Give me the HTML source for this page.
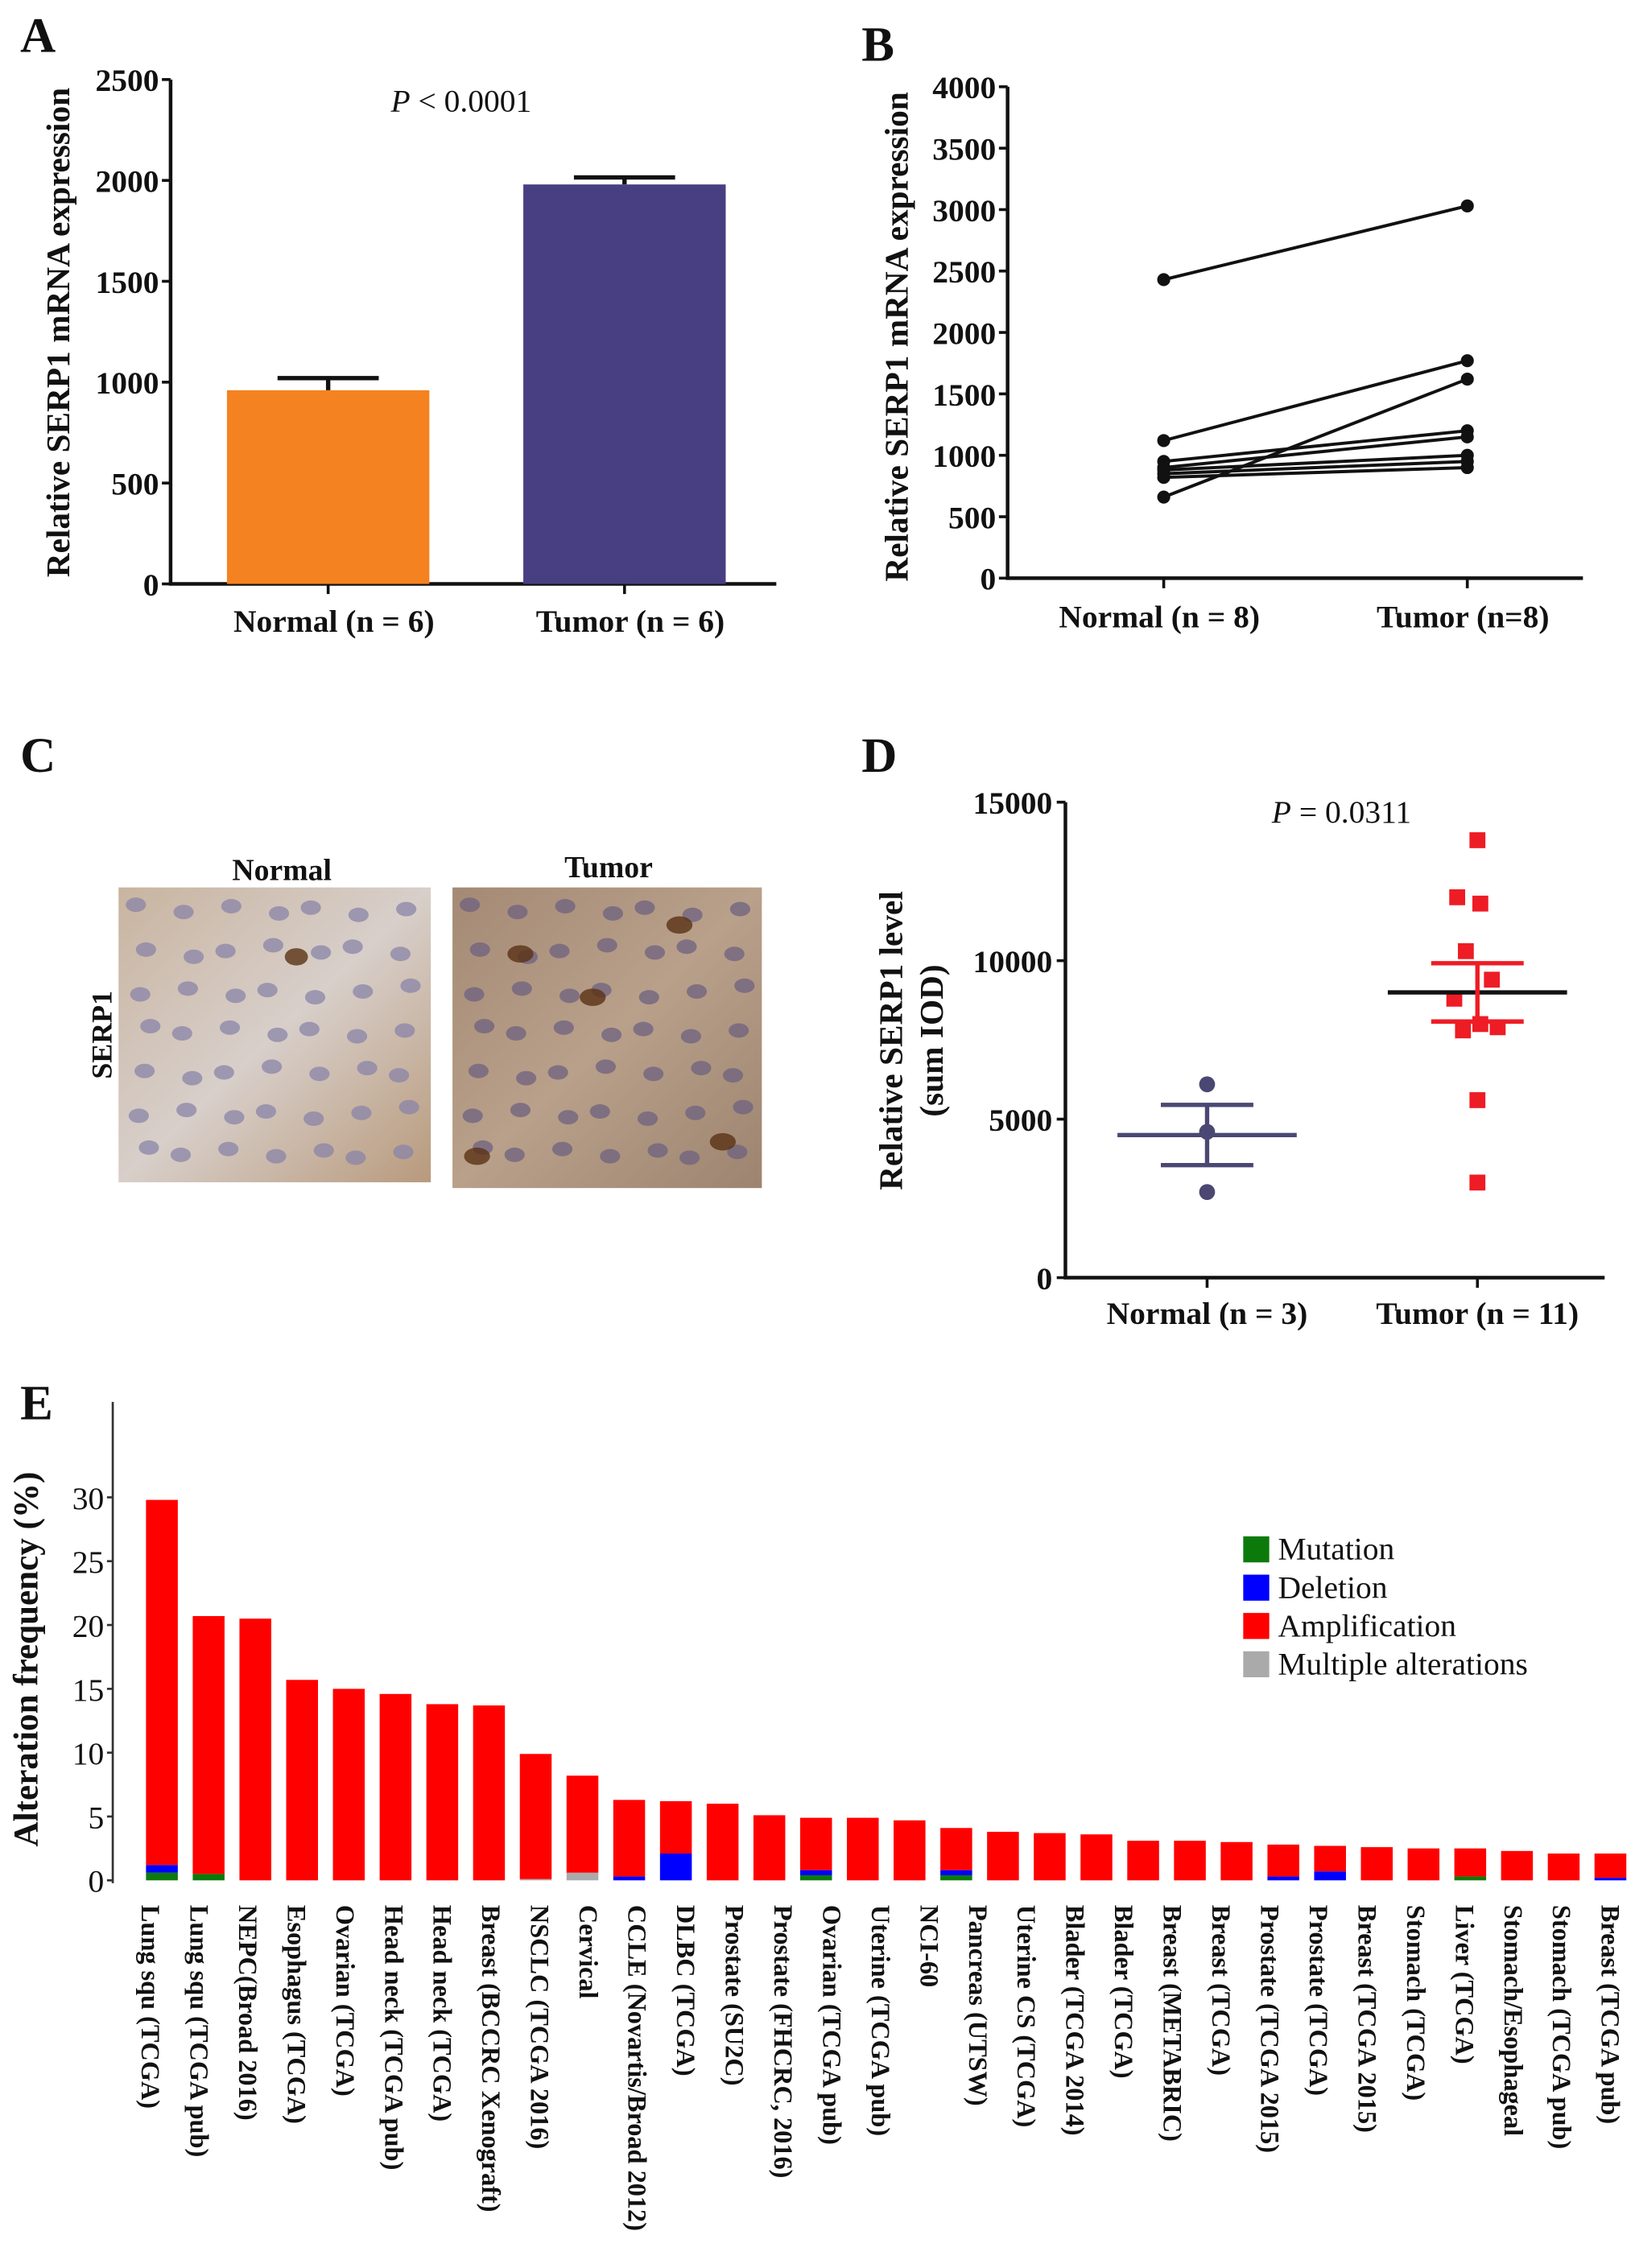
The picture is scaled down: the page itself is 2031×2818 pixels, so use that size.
<!DOCTYPE html>
<html><head><meta charset="utf-8"><style>
html,body{margin:0;padding:0;background:#fff}
svg{display:block}
text{font-family:"Liberation Serif",serif;fill:#111}
</style></head><body>
<svg id="fig" width="2031" height="2818" viewBox="0 0 1131 1569.2" xmlns="http://www.w3.org/2000/svg">
<g id="pa"></g>
<g id="pb"></g>
<g id="pc"></g>
<g id="pd"></g>
<g id="pe"></g>
</svg>
<script>
// Panel A data
const aCats = ["Normal (n = 6)", "Tumor (n = 6)"];
const aVals = [960, 1980];
const aErr = [60, 35];
const aTicks = [0, 500, 1000, 1500, 2000, 2500];
// Panel B data
const bCats = ["Normal (n = 8)", "Tumor (n=8)"];
const bNormal = [2430, 1120, 660, 950, 900, 880, 850, 820];
const bTumor = [3030, 1770, 1620, 1200, 1150, 1000, 950, 900];
const bTicks = [0, 500, 1000, 1500, 2000, 2500, 3000, 3500, 4000];
// Panel D data
const dCats = ["Normal (n = 3)", "Tumor (n = 11)"];
const dNormal = [6100, 4600, 2700];
const dTumor = [13800, 12000, 11800, 10300, 9400, 8800, 8000, 7900, 7800, 5600, 3000];
const dTumorJitter = [0, -14, 2, -8, 10, -16, 2, 14, -10, 0, 0];
const dMean = [4500, 9000];
const dSem = [950, 920];
const dTicks = [0, 5000, 10000, 15000];
// Panel E data
const eCats = ["Lung squ (TCGA)","Lung squ (TCGA pub)","NEPC(Broad 2016)","Esophagus (TCGA)","Ovarian (TCGA)","Head neck (TCGA pub)","Head neck (TCGA)","Breast (BCCRC Xenograft)","NSCLC (TCGA 2016)","Cervical","CCLE (Novartis/Broad 2012)","DLBC (TCGA)","Prostate (SU2C)","Prostate (FHCRC, 2016)","Ovarian (TCGA pub)","Uterine (TCGA pub)","NCI-60","Pancreas (UTSW)","Uterine CS (TCGA)","Blader (TCGA 2014)","Blader (TCGA)","Breast (METABRIC)","Breast (TCGA)","Prostate (TCGA 2015)","Prostate (TCGA)","Breast (TCGA 2015)","Stomach (TCGA)","Liver (TCGA)","Stomach/Esophageal","Stomach (TCGA pub)","Breast (TCGA pub)"];
const eMutation =  [0.6,0.5,0,0,0,0,0,0,0,0,0,0,0,0,0.4,0,0,0.4,0,0,0,0,0,0,0,0,0,0,0.3,0,0,0];
const eDeletion =  [0.6,0,0,0,0,0,0,0,0,0,0.3,2.1,0,0,0.4,0,0,0.4,0,0,0,0,0,0,0.3,0.7,0,0,0,0,0,0.2];
const eMultiple =  [0,0,0,0,0,0,0,0,0.1,0.6,0,0,0,0,0,0,0,0,0,0,0,0,0,0,0,0,0,0,0,0,0,0];
const eAmp =       [28.6,20.2,20.5,15.7,15.0,14.6,13.8,13.7,9.8,7.6,6.0,4.1,6.0,5.1,4.1,4.9,4.7,3.3,3.8,3.7,3.6,3.1,3.1,3.0,2.5,2.0,2.6,2.5,2.2,2.3,2.1,1.9];
const eTicks = [0,5,10,15,20,25,30];
const legendLabels = ["Mutation","Deletion","Amplification","Multiple alterations"];
const legendColors = ["#0b7a0b","#0000ff","#ff0000","#aaaaaa"];

const NS = "http://www.w3.org/2000/svg";
function mk(parent, tag, attrs, txt){
  const el = document.createElementNS(NS, tag);
  for (const k in attrs) el.setAttribute(k, attrs[k]);
  if (txt !== undefined) el.textContent = txt;
  parent.appendChild(el);
  return el;
}
function lin(d0,d1,r0,r1){return v => r0 + (v-d0)/(d1-d0)*(r1-r0);}

// ---------- Panel A ----------
(function(){
  const g = document.getElementById('pa');
  const y = lin(0,2500,404,55);
  const xs = [227, 432];
  let t = mk(g,'text',{x:14,y:36,'font-size':34,'font-weight':'bold'},'A');
   
  let ax = mk(g,'path',{d:'M118 55 V404 H537',stroke:'#111','stroke-width':2.5,fill:'none'});
   
  aTicks.forEach(v=>{
    const tk = mk(g,'line',{x1:112,x2:118,y1:y(v),y2:y(v),stroke:'#111','stroke-width':2});
     
    const tl = mk(g,'text',{x:110,y:y(v)+8,'font-size':22,'font-weight':'bold','text-anchor':'end'},v);
     
  });
  const colors = ['#f58220','#483f82'];
  aVals.forEach((v,i)=>{
    const b = mk(g,'rect',{x:xs[i]-70,y:y(v),width:140,height:404-y(v),fill:colors[i]});
     
    const e = mk(g,'path',{d:`M${xs[i]} ${y(v)} V${y(v+aErr[i])} M${xs[i]-35} ${y(v+aErr[i])} H${xs[i]+35}`,stroke:'#111','stroke-width':3,fill:'none'});
     
    mk(g,'line',{x1:xs[i],x2:xs[i],y1:404,y2:411,stroke:'#111','stroke-width':2});
    const l = mk(g,'text',{x:xs[i]+4,y:437,'font-size':22,'font-weight':'bold','text-anchor':'middle'},aCats[i]);
     
  });
  const p = mk(g,'text',{x:319,y:77,'font-size':22,'text-anchor':'middle'});
   
  mk(p,'tspan',{'font-style':'italic'},'P'); mk(p,'tspan',{},' < 0.0001');
  const yt = mk(g,'text',{transform:'translate(48,230) rotate(-90)','font-size':23,'font-weight':'bold','text-anchor':'middle'},'Relative SERP1 mRNA expression');
   
})();

// ---------- Panel B ----------
(function(){
  const g = document.getElementById('pb');
  const y = lin(0,4000,400,60);
  const xs = [805, 1015];
  let t = mk(g,'text',{x:596,y:42,'font-size':34,'font-weight':'bold'},'B');
   
  let ax = mk(g,'path',{d:'M697 60 V400 H1095',stroke:'#111','stroke-width':2.5,fill:'none'});
   
  bTicks.forEach(v=>{
    mk(g,'line',{x1:691,x2:697,y1:y(v),y2:y(v),stroke:'#111','stroke-width':2});
    const tl = mk(g,'text',{x:689,y:y(v)+8,'font-size':22,'font-weight':'bold','text-anchor':'end'},v);
     
  });
  xs.forEach((x,i)=>{
    mk(g,'line',{x1:x,x2:x,y1:400,y2:407,stroke:'#111','stroke-width':2});
    const l = mk(g,'text',{x:x-3,y:434,'font-size':22,'font-weight':'bold','text-anchor':'middle'},bCats[i]);
     
  });
  bNormal.forEach((v,i)=>{
    const ln = mk(g,'line',{x1:xs[0],y1:y(v),x2:xs[1],y2:y(bTumor[i]),stroke:'#111','stroke-width':2.2});
     
    const c1 = mk(g,'circle',{cx:xs[0],cy:y(v),r:4.5,fill:'#111'});
     
    const c2 = mk(g,'circle',{cx:xs[1],cy:y(bTumor[i]),r:4.5,fill:'#111'});
     
  });
  const yt = mk(g,'text',{transform:'translate(628,233) rotate(-90)','font-size':23,'font-weight':'bold','text-anchor':'middle'},'Relative SERP1 mRNA expression');
   
})();

// ---------- Panel C ----------
(function(){
  const g = document.getElementById('pc');
  let t = mk(g,'text',{x:14,y:534,'font-size':34,'font-weight':'bold'},'C');
   
  const defs = mk(g,'defs',{});
  const gr1 = mk(defs,'linearGradient',{id:'gn',x1:0,y1:0,x2:1,y2:1});
  mk(gr1,'stop',{offset:0,'stop-color':'#c8b4a0'}); mk(gr1,'stop',{offset:0.5,'stop-color':'#d8cfca'}); mk(gr1,'stop',{offset:1,'stop-color':'#b89a7c'});
  const gr2 = mk(defs,'linearGradient',{id:'gt',x1:0,y1:0,x2:1,y2:1});
  mk(gr2,'stop',{offset:0,'stop-color':'#a48a74'}); mk(gr2,'stop',{offset:0.5,'stop-color':'#b9a08a'}); mk(gr2,'stop',{offset:1,'stop-color':'#9c8470'});
  const imgs = [{x:82,y:614,w:216,h:204,f:'url(#gn)',n:'normal',lbl:'Normal',lx:195,ly:609},{x:313,y:614,w:214,h:208,f:'url(#gt)',n:'tumor',lbl:'Tumor',lx:421,ly:607}];
  imgs.forEach((im,k)=>{
    const r = mk(g,'rect',{x:im.x,y:im.y,width:im.w,height:im.h,fill:im.f});
     
    for(let i=0;i<7;i++)for(let j=0;j<7;j++){
      const cx = im.x+12+i*30+((j*7+i*3)%11);
      const cy = im.y+12+j*28+((i*5+j*3)%9);
      if(cx<im.x+im.w-6 && cy<im.y+im.h-6)
        mk(g,'ellipse',{cx:cx,cy:cy,rx:7,ry:5,fill:k?'#6e6280':'#8a84a8',opacity:0.75});
    }
    if(k){ [[330,800],[410,690],[470,640],[360,660],[500,790]].forEach(p=>mk(g,'ellipse',{cx:p[0],cy:p[1],rx:9,ry:6,fill:'#5a3214',opacity:0.8})); }
    else { mk(g,'ellipse',{cx:205,cy:662,rx:8,ry:6,fill:'#5a3214',opacity:0.8}); }
    const l = mk(g,'text',{x:im.lx,y:im.ly,'font-size':21,'font-weight':'bold','text-anchor':'middle'},im.lbl);
     
  });
  const s = mk(g,'text',{transform:'translate(77,716) rotate(-90)','font-size':20,'font-weight':'bold','text-anchor':'middle'},'SERP1');
   
})();

// ---------- Panel D ----------
(function(){
  const g = document.getElementById('pd');
  const y = lin(0,15000,884,555);
  const xs = [835, 1022];
  let t = mk(g,'text',{x:596,y:534,'font-size':34,'font-weight':'bold'},'D');
   
  let ax = mk(g,'path',{d:'M737 555 V884 H1110',stroke:'#111','stroke-width':2.5,fill:'none'});
   
  dTicks.forEach(v=>{
    mk(g,'line',{x1:731,x2:737,y1:y(v),y2:y(v),stroke:'#111','stroke-width':2});
    const tl = mk(g,'text',{x:728,y:y(v)+8,'font-size':22,'font-weight':'bold','text-anchor':'end'},v);
     
  });
  xs.forEach((x,i)=>{
    mk(g,'line',{x1:x,x2:x,y1:884,y2:891,stroke:'#111','stroke-width':2});
    const l = mk(g,'text',{x:x,y:916,'font-size':22,'font-weight':'bold','text-anchor':'middle'},dCats[i]);
     
  });
  const cols = ['#4a4873','#ee1c25'];
  dNormal.forEach(v=>{
    const c = mk(g,'circle',{cx:xs[0],cy:y(v),r:5.5,fill:cols[0]});
     
  });
  dTumor.forEach((v,i)=>{
    const r = mk(g,'rect',{x:xs[1]+dTumorJitter[i]-5.5,y:y(v)-5.5,width:11,height:11,fill:cols[1]});
     
  });
  dMean.forEach((m,i)=>{
    const ml = mk(g,'line',{x1:xs[i]-62,x2:xs[i]+62,y1:y(m),y2:y(m),stroke:i?'#111':cols[0],'stroke-width':3});
     
    const e = mk(g,'path',{d:`M${xs[i]} ${y(m-dSem[i])} V${y(m+dSem[i])} M${xs[i]-32} ${y(m+dSem[i])} H${xs[i]+32} M${xs[i]-32} ${y(m-dSem[i])} H${xs[i]+32}`,stroke:cols[i],'stroke-width':3,fill:'none'});
     
  });
  const p = mk(g,'text',{x:928,y:569,'font-size':22,'text-anchor':'middle'});
   
  mk(p,'tspan',{'font-style':'italic'},'P'); mk(p,'tspan',{},' = 0.0311');
  const yt = mk(g,'text',{transform:'translate(624,720) rotate(-90)','font-size':23,'font-weight':'bold','text-anchor':'middle'},'Relative SERP1 level');
   
  const yt2 = mk(g,'text',{transform:'translate(652,720) rotate(-90)','font-size':23,'font-weight':'bold','text-anchor':'middle'},'(sum IOD)');
   
})();

// ---------- Panel E ----------
(function(){
  const g = document.getElementById('pe');
  const y = lin(0,30,1301,1036);
  const n = eAmp.length;
  const x0 = 112, x1 = 1114;
  const bx = i => x0 + i*(x1-x0)/(n-1);
  let t = mk(g,'text',{x:14,y:982,'font-size':34,'font-weight':'bold'},'E');
   
  let ax = mk(g,'line',{x1:78,x2:78,y1:970,y2:1303,stroke:'#333','stroke-width':1.5});
   
  eTicks.forEach(v=>{
    mk(g,'line',{x1:74,x2:78,y1:y(v),y2:y(v),stroke:'#333','stroke-width':1.5});
    const tl = mk(g,'text',{x:72,y:y(v)+8,'font-size':22,'text-anchor':'end'},v);
     
  });
  const yt = mk(g,'text',{transform:'translate(26,1148) rotate(-90)','font-size':24,'font-weight':'bold','text-anchor':'middle'},'Alteration frequency (%)');
   
  for(let i=0;i<n;i++){
    let base = 0;
    const segs = [[eMutation[i],legendColors[0],'mutation'],[eDeletion[i],legendColors[1],'deletion'],[eMultiple[i],legendColors[3],'multiple'],[eAmp[i],legendColors[2],'amplification']];
    segs.forEach(s=>{
      if(s[0]>0){
        const r = mk(g,'rect',{x:bx(i)-11,y:y(base+s[0]),width:22,height:y(base)-y(base+s[0]),fill:s[1]});
         
        base += s[0];
      }
    });
  }
  const m = eCats.length;
  eCats.forEach((c,i)=>{
    const lx = 103 + i*(1113-103)/(m-1);
    const l = mk(g,'text',{transform:`translate(${lx-5},1318) rotate(90)`,'font-size':18,'font-weight':'bold'},c);
     
  });
  legendLabels.forEach((lb,i)=>{
    const yy = 1063 + i*26.5;
    const sw = mk(g,'rect',{x:860,y:yy,width:18,height:18,fill:legendColors[i]});
     
    const tx = mk(g,'text',{x:884,y:yy+16,'font-size':22},lb);
     
  });
})();
</script>
</body></html>
